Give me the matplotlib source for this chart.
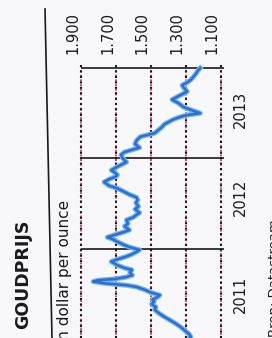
import matplotlib.pyplot as plt
from matplotlib.lines import Line2D

time_years = [2011.00, 2011.03, 2011.06, 2011.10, 2011.14, 2011.18, 2011.22, 2011.26,
              2011.30, 2011.33, 2011.36, 2011.39, 2011.42, 2011.44, 2011.47, 2011.49,
              2011.52, 2011.55, 2011.58, 2011.60, 2011.62, 2011.64, 2011.655, 2011.67,
              2011.69, 2011.71, 2011.74, 2011.77, 2011.79, 2011.82, 2011.86, 2011.88,
              2011.91, 2011.94, 2011.97, 2011.99, 2012.02, 2012.05, 2012.08, 2012.11,
              2012.13, 2012.16, 2012.19, 2012.21, 2012.25, 2012.28, 2012.32, 2012.35,
              2012.38, 2012.40, 2012.44, 2012.47, 2012.51, 2012.54, 2012.57, 2012.60,
              2012.64, 2012.67, 2012.70, 2012.74, 2012.77, 2012.80, 2012.82, 2012.85,
              2012.87, 2012.90, 2012.93, 2012.96, 2013.00, 2013.04, 2013.07, 2013.10,
              2013.12, 2013.16, 2013.20, 2013.24, 2013.28, 2013.31, 2013.34, 2013.38,
              2013.43, 2013.46, 2013.48, 2013.50, 2013.53, 2013.57, 2013.61, 2013.65,
              2013.69, 2013.72, 2013.74, 2013.78, 2013.81, 2013.84, 2013.87, 2013.90,
              2013.94, 2013.97, 2014.00]
gold_price = [1285, 1270, 1280, 1305, 1330, 1360, 1395, 1430,
              1460, 1478, 1470, 1495, 1480, 1490, 1460, 1448,
              1500, 1535, 1580, 1640, 1760, 1830, 1800, 1700,
              1640, 1605, 1620, 1608, 1650, 1690, 1726, 1700,
              1650, 1610, 1580, 1564, 1620, 1660, 1691, 1720,
              1749, 1700, 1650, 1622, 1650, 1630, 1639, 1600,
              1580, 1564, 1590, 1570, 1585, 1575, 1581, 1620,
              1660, 1691, 1740, 1767, 1740, 1700, 1691, 1710,
              1726, 1700, 1670, 1639, 1660, 1670, 1651, 1600,
              1564, 1590, 1581, 1560, 1477, 1459, 1440, 1420,
              1372, 1330, 1291, 1216, 1260, 1314, 1340, 1378,
              1340, 1310, 1291, 1310, 1320, 1290, 1270, 1256,
              1240, 1230, 1216]

price_ticks = [1100, 1300, 1500, 1700, 1900]
price_labels = ['1.100', '1.300', '1.500', '1.700', '1.900']
year_edges = [2012, 2013, 2014]
year_labels = ['2011', '2012', '2013']
year_label_pos = [2011.50, 2012.57, 2013.54]

W, H = 272, 338
fig = plt.figure(figsize=(W / 100, H / 100), dpi=100, facecolor='#f8f8fa')
ax = fig.add_axes([0, 0, 1, 1])
ax.set_facecolor('#f8f8fa')
# the page is turned: time runs upwards, price grows to the left
ax.set_xlim(2364, 805)
ax.set_ylim(2011.0166, 2014.751)
ax.axis('off')

def fx(x):
    return x / W

def fy(y):
    return 1 - y / H

# dotted price grid
t_low, t_top = ax.get_ylim()[0], 2014.045
ax.vlines(price_ticks, t_low, t_top, colors='#c23a5a', lw=1.3,
          linestyles=(0.8, (1, 1.6)), zorder=1)
ax.vlines(price_ticks, t_low, t_top, colors='#1c1418', lw=1.5,
          linestyles=(0, (1, 1.6)), zorder=1)

# year separators
ax.hlines(year_edges, 1900, 1080, colors='#1a1a1a', lw=1.2, zorder=2)

ax.plot(gold_price, time_years, color='#78b6ec', lw=3.6, solid_joinstyle='round', zorder=3)
ax.plot(gold_price, time_years, color='#2b6fd2', lw=1.8, solid_joinstyle='round', zorder=4)

for p, lab in zip(price_ticks, price_labels):
    ax.text(p + 5, 2014.62, lab, rotation=90, ha='right', va='top',
            fontsize=10.5, color='#1a1a1a')

for t, lab in zip(year_label_pos, year_labels):
    ax.text(988, t, lab, rotation=90, ha='center', va='center',
            fontsize=10.5, color='#1a1a1a')

fig.text(fx(23), fy(220), 'GOUDPRIJS', rotation=90, ha='center', va='top',
         fontsize=12.5, fontweight='bold', color='#1a1a1a')
fig.text(fx(65), fy(200), 'in dollar per ounce', rotation=90, ha='center', va='top',
         fontsize=11, color='#1a1a1a')
fig.text(fx(274), fy(219), 'Bron: Datastream', rotation=90, ha='center', va='top',
         fontsize=9.5, color='#1a1a1a')

fig.add_artist(Line2D([fx(45), fx(52)], [fy(9), fy(338)], transform=fig.transFigure,
                      color='#1a1a1a', lw=1.2))

fig.savefig('out.png', dpi=100, facecolor=fig.get_facecolor())
